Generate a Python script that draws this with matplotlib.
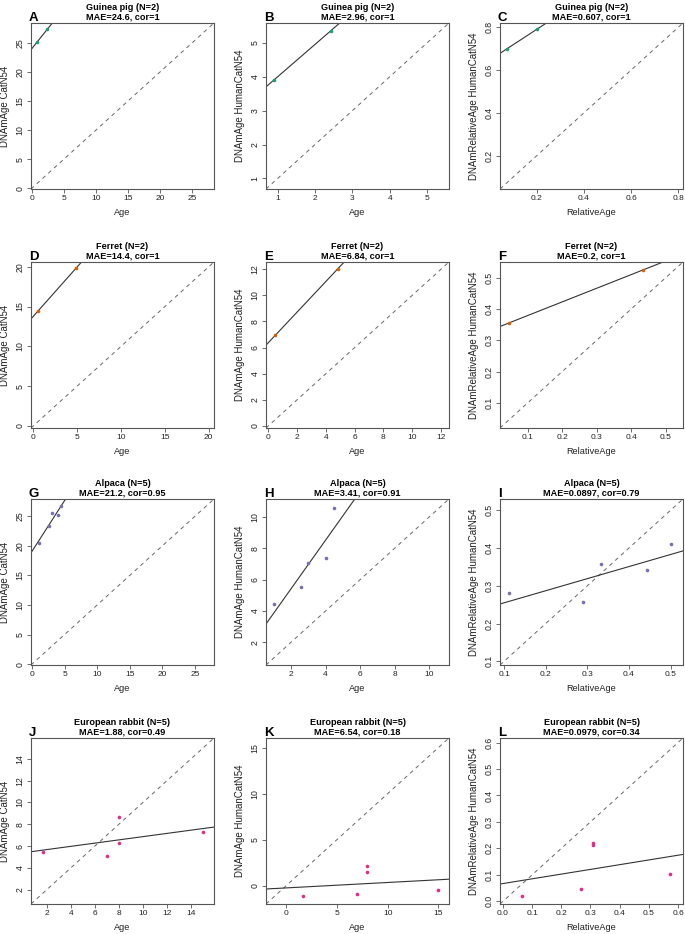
"""
Epigenetic clock panels: predicted DNAm age vs chronological age
for four species and three clocks (grid 4 x 3).
"""

import numpy as np
import matplotlib
matplotlib.use("Agg")
import matplotlib.pyplot as plt
from matplotlib.ticker import MultipleLocator

plt.rcParams["font.family"] = ["Liberation Sans", "DejaVu Sans"]

SPECIES = ["Guinea pig", "Ferret", "Alpaca", "European rabbit"]
N_SAMPLES = [2, 2, 5, 5]
COLORS = ["#1B9E77", "#D95F02", "#7570B3", "#E7298A"]

# chronological age (years)
guinea_age = [0.9, 2.42]
ferret_age = [0.5, 4.85]
alpaca_age = [1.0, 2.6, 3.0, 4.0, 4.5]
rabbit_age = [1.67, 7.0, 8.0, 8.0, 15.0]

# relative age
guinea_rel = [0.075, 0.20]
ferret_rel = [0.045, 0.435]
alpaca_rel = [0.111, 0.289, 0.333, 0.444, 0.5]
rabbit_rel = [0.064, 0.267, 0.31, 0.31, 0.574]

# DNAmAge CatN54
guinea_cat = [25.2, 27.3]
ferret_cat = [14.4, 19.8]
alpaca_cat = [20.4, 23.3, 25.6, 25.2, 26.7]
rabbit_cat = [5.45, 5.11, 8.71, 6.28, 7.26]

# DNAmAge HumanCatN54
guinea_hc = [3.9, 5.35]
ferret_hc = [6.95, 12.05]
alpaca_hc = [4.42, 5.54, 7.08, 7.38, 10.58]
rabbit_hc = [-1.16, -0.91, 1.49, 2.1, -0.43]

# DNAmRelativeAge HumanCatN54
guinea_rhc = [0.70, 0.79]
ferret_rhc = [0.355, 0.525]
alpaca_rhc = [0.28, 0.258, 0.359, 0.343, 0.411]
rabbit_rhc = [0.021, 0.048, 0.221, 0.213, 0.105]

MAE_TEXT = [
    ["24.6", "2.96", "0.607"],
    ["14.4", "6.84", "0.2"],
    ["21.2", "3.41", "0.0897"],
    ["1.88", "6.54", "0.0979"],
]
COR_TEXT = [
    ["1", "1", "1"],
    ["1", "1", "1"],
    ["0.95", "0.91", "0.79"],
    ["0.49", "0.18", "0.34"],
]

X_LABELS = ["Age", "Age", "RelativeAge"]
Y_LABELS = ["DNAmAge CatN54", "DNAmAge HumanCatN54", "DNAmRelativeAge HumanCatN54"]
PANEL_LETTERS = "ABCDEFGHIJKL"

# axis range (same for x and y) and tick step per panel
AXIS_LIMITS = [
    [(-0.1, 28.4), (0.69, 5.58), (0.045, 0.82)],
    [(-0.27, 20.6), (-0.15, 12.55), (0.02, 0.55)],
    [(-0.15, 27.9), (0.55, 11.15), (0.09, 0.53)],
    [(0.7, 15.9), (-2.0, 16.05), (-0.01, 0.617)],
]
TICK_STEP = [
    [5, 1, 0.2],
    [5, 2, 0.1],
    [5, 2, 0.1],
    [2, 5, 0.1],
]

X_DATA = [
    [guinea_age, guinea_age, guinea_rel],
    [ferret_age, ferret_age, ferret_rel],
    [alpaca_age, alpaca_age, alpaca_rel],
    [rabbit_age, rabbit_age, rabbit_rel],
]
Y_DATA = [
    [guinea_cat, guinea_hc, guinea_rhc],
    [ferret_cat, ferret_hc, ferret_rhc],
    [alpaca_cat, alpaca_hc, alpaca_rhc],
    [rabbit_cat, rabbit_hc, rabbit_rhc],
]

W, H = 685, 934
COL_LEFT = [31, 266, 500]
ROW_TOP = [23, 262, 499, 738]
AX_W, AX_H = 183, 166
FRAME = "#555555"


def draw_panel(ax, x, y, lim, step, color, title, letter, xlabel, ylabel):
    """Scatter + regression line + y=x reference."""
    x = np.asarray(x)
    y = np.asarray(y)

    ax.set_xlim(lim)
    ax.set_ylim(lim)

    slope, intercept = np.polyfit(x, y, 1)
    ax.axline((0, intercept), slope=slope, color="#333333", lw=0.8, zorder=2)
    ax.axline((0, 0), slope=1, color="#666666", lw=0.7,
              linestyle=(0, (4, 4)), zorder=1)
    ax.plot(x, y, "o", color=color, ms=2.6, mec="none", zorder=3)

    ax.xaxis.set_major_locator(MultipleLocator(step))
    ax.yaxis.set_major_locator(MultipleLocator(step))
    ax.tick_params(direction="out", length=3, width=0.6, color=FRAME,
                   labelcolor="#222222")
    ax.tick_params(axis="x", labelsize=6.0, pad=1.5)
    ax.tick_params(axis="y", labelsize=6.3, pad=1.5)
    for lab in ax.get_yticklabels():
        lab.set_rotation(90)
        lab.set_va("center")

    for sp in ax.spines.values():
        sp.set_color(FRAME)
        sp.set_linewidth(0.8)

    ax.set_xlabel(xlabel, fontsize=6.6, labelpad=4, color="#222222")
    ax.set_ylabel(ylabel, fontsize=7, labelpad=4, color="#222222")
    ax.set_title(title, fontsize=6.6, fontweight="bold", pad=2.5,
                 linespacing=1.1)
    ax.text(-0.012, 1.012, letter, transform=ax.transAxes, ha="left",
            va="baseline", fontsize=9.5, fontweight="bold")


fig = plt.figure(figsize=(W / 100, H / 100), dpi=100)

for r in range(4):
    for c in range(3):
        rect = [COL_LEFT[c] / W, 1 - (ROW_TOP[r] + AX_H) / H, AX_W / W, AX_H / H]
        ax = fig.add_axes(rect)
        title = (f"{SPECIES[r]} (N={N_SAMPLES[r]})\n"
                 f"MAE={MAE_TEXT[r][c]}, cor={COR_TEXT[r][c]}")
        draw_panel(ax, X_DATA[r][c], Y_DATA[r][c], AXIS_LIMITS[r][c],
                   TICK_STEP[r][c], COLORS[r], title, PANEL_LETTERS[r * 3 + c],
                   X_LABELS[c], Y_LABELS[c])

fig.savefig("out.png", dpi=100)
